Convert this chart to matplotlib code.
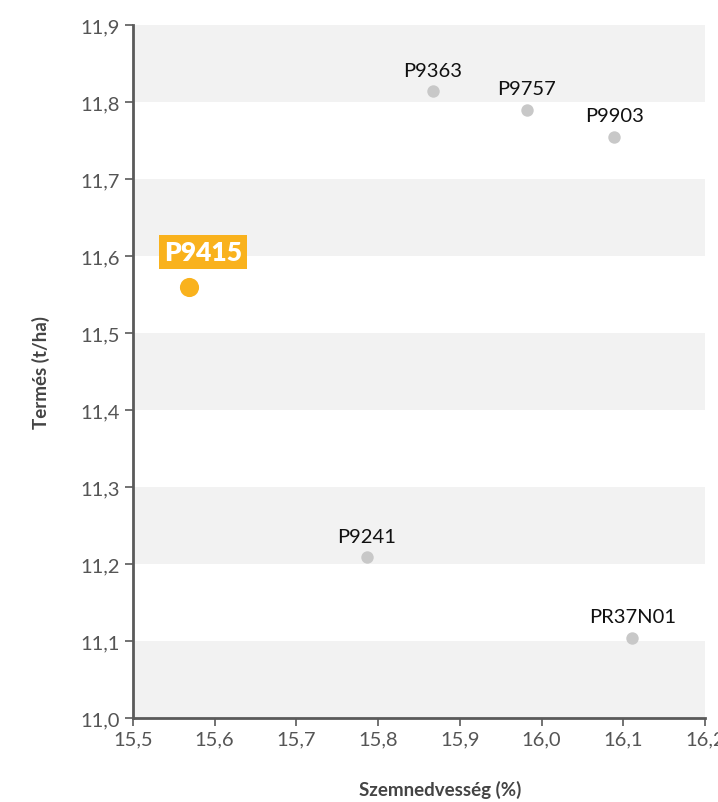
import matplotlib
matplotlib.use("Agg")
import matplotlib.pyplot as plt
from matplotlib.ticker import FuncFormatter

plt.rcParams['font.family'] = ['Lato', 'DejaVu Sans']

hybrids = ["P9363", "P9757", "P9903", "P9415", "P9241", "PR37N01"]
moisture = [15.867, 15.982, 16.089, 15.569, 15.786, 16.111]
yield_t = [11.814, 11.790, 11.755, 11.560, 11.209, 11.104]
highlight = "P9415"

x_ticks = [15.5, 15.6, 15.7, 15.8, 15.9, 16.0, 16.1, 16.2]
y_ticks = [11.0, 11.1, 11.2, 11.3, 11.4, 11.5, 11.6, 11.7, 11.8, 11.9]

fig = plt.figure(figsize=(7.18, 8.03), dpi=100)
ax = fig.add_axes([0.185, 0.1046, 0.797, 0.863])
ax.set_xlim(15.5, 16.2)
ax.set_ylim(11.0, 11.9)

# alternating bands
for i in range(0, len(y_ticks) - 1, 2):
    ax.axhspan(y_ticks[i], y_ticks[i + 1], color="#f2f2f2", zorder=0, lw=0)

orange = "#F9B21D"
for name, xv, yv in zip(hybrids, moisture, yield_t):
    if name == highlight:
        ax.scatter([xv], [yv], s=190, color=orange, zorder=3, lw=0)
        ax.annotate(name, (xv, yv), xytext=(10, 25), textcoords="offset points",
                    ha="center", va="center", fontsize=19, fontweight="heavy", color="white",
                    bbox=dict(boxstyle="square,pad=0.2", fc=orange, ec="none"), zorder=4)
    else:
        ax.scatter([xv], [yv], s=80, color="#c8c8c8", zorder=3, lw=0)
        ax.annotate(name, (xv, yv), xytext=(0, 9), textcoords="offset points",
                    ha="center", va="bottom", fontsize=14.5, color="#111111", zorder=4)

ax.set_xticks(x_ticks)
ax.set_yticks(y_ticks)
fmt = FuncFormatter(lambda v, p: f"{v:.1f}".replace(".", ","))
ax.xaxis.set_major_formatter(fmt)
ax.yaxis.set_major_formatter(fmt)

for s in ["top", "right"]:
    ax.spines[s].set_visible(False)
for s in ["left", "bottom"]:
    ax.spines[s].set_color("#5a5a5a")
    ax.spines[s].set_linewidth(2)
ax.tick_params(axis="both", colors="#5a5a5a", labelcolor="#555555", labelsize=14.5,
               length=6, width=1.2, direction="out")
ax.tick_params(axis="x", pad=3)

fig.text(0.613, 4 / 803, "Szemnedvesség (%)", ha="center", va="bottom",
         fontsize=13.5, fontweight="bold", color="#444444")
ax.set_ylabel("Termés (t/ha)", fontsize=13.5, fontweight="bold", color="#444444", labelpad=22)

fig.savefig("out.png", dpi=100)
